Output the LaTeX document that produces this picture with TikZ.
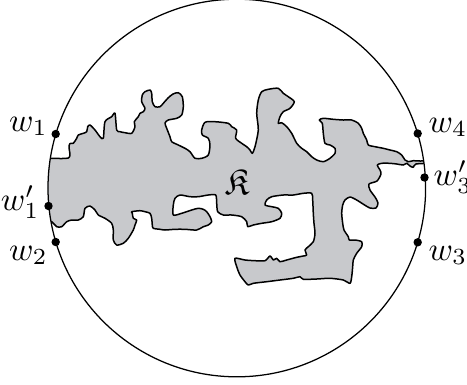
\documentclass[tikz,border=0pt]{standalone}
\usepackage{amssymb}
\definecolor{blobgrey}{RGB}{200,201,204}
\begin{document}
\begin{tikzpicture}[x=0.3333pt,y=-0.3333pt,
  blobstyle/.style={fill=blobgrey, draw=black, line width=0.5pt, line join=round},
  rimstyle/.style={draw=black, line width=0.42pt},
  dotstyle/.style={circle, fill=black, inner sep=0pt, minimum size=2.8pt},
  lab/.style={inner sep=0pt, scale=1.1, transform shape}]
\useasboundingbox (0,0) rectangle (467,384);
\coordinate (c) at (236.8,188);
\begin{scope}
\clip (c) circle [radius=62.93pt];
\draw[blobstyle] plot[smooth cycle, tension=0.45] coordinates {
(40,158) (50,158.3) (62,158.5) (68.3,158) (70,155) (69,147) (70,143.5) (73.3,143.3)
(76.7,138.3) (78.3,135) (83.3,133.3) (86.7,131.7) (87.7,126.7) (90,125) (95,130)
(100,136.7) (103.3,138.3) (105,121.7) (111.7,116.7) (115,113.3) (116.7,130) (120,131.7)
(125,132.7) (131.7,133.3) (135,126.7) (134.3,121.7) (138.3,116.7) (140,113.3) (143.3,111.7)
(145,108.3) (141.7,101.7) (142.3,95) (145,91.7) (150,90) (151.7,93.3) (152.3,101.7)
(155,106.7) (160,106.7) (163.3,103.3) (168,98) (173,94) (178.3,92.7) (182.3,96.7)
(183.3,106.7) (181.7,115) (176.7,118.3) (168.3,120) (165,123) (166.7,128.3) (170,136.7)
(171.7,141.7) (178.3,145) (185,148.3) (190,151.7) (195,158.3) (201.7,158.3) (208.3,155)
(210,145) (208.3,138.3) (202.3,135) (201.7,130) (205,122.3) (215,121.7) (228.3,123.3)
(231.7,126.7) (236.7,130) (235.7,138.3) (241.7,143.3) (246.7,146.7) (250,150) (252.3,153.3)
(255,146.7) (258.3,130) (256.7,113.3) (258.3,100) (261.7,91.7) (268.3,89.3) (278.3,88.3)
(283.3,93.3) (288.3,96.7) (294.3,101.7) (290,108.3) (283.3,111.7) (280,116.7) (278.3,123.3)
(281.7,122.7) (286.7,126.7) (291.7,133.3) (296.7,143.3) (301.7,148.3) (306.7,151.7)
(311.7,156.7) (316.7,160) (323.3,161.7) (330,158.3) (335,153.3) (335,148.3) (330,145)
(325,143.3) (323.3,133.3) (322.3,123.3) (319.3,120) (323.3,118.3) (333.3,119.3) (343.3,120)
(351.7,120) (358.3,123.3) (361.7,128.3) (363.3,133.3) (366.7,140) (368.3,145) (375,146.7)
(383.3,148.3) (390,150) (396.7,151.7) (401.7,155) (405,160) (408.3,161.7) (413.3,160.7)
(420,161) (432,161) (432,163) (416,164) (413.3,167.3) (410,166) (406.7,163.3) (403.3,165)
(396.7,164) (390,163.3) (381.7,163.3) (377.3,165) (380,170) (381,174) (377,181) (369,184)
(370,190) (375,197) (378,203) (376,208) (370,208) (363,204) (356.7,200) (350,197) (345,200)
(342.7,205) (341.7,213.3) (342.7,223.3) (344,230) (348.3,236.7) (349.3,240) (355,240)
(361.7,241.7) (361.7,246.7) (356.7,253.3) (353.3,260) (352.7,266.7) (351.7,276.7) (350,283.3)
(343.3,280) (330,278.3) (316.7,279) (303.3,279.3) (300,276.7) (293.3,278.3) (280,280)
(266.7,281.7) (253.3,283.3) (248.3,285) (245,281.7) (240,275) (236.7,266.7) (235,258.3)
(245,260) (255,260.7) (265,260.7) (270,256) (273.3,260) (276.7,258.3) (280,261.7)
(286.7,260) (296.7,257.3) (303.3,256) (306.7,255) (305,250) (308.3,246.7) (313.3,241.7)
(315,233.3) (314,223.3) (313.3,213.3) (312.7,200) (311.7,193.3) (303.3,193.3) (293.3,195)
(283.3,195) (271.7,196.7) (266.7,200) (265,205) (271.7,206.7) (278.3,208.3) (281.7,213.3)
(280,218.3) (271.7,221.7) (261.7,223.3) (253.3,225) (247.7,226.7) (246.7,221.7) (241.7,216.7)
(231.7,215) (223.3,215) (217.7,211.7) (216.7,203.3) (215.7,195) (208.3,195) (198.3,196.7)
(190,196.7) (180,195) (175,198.3) (173.3,205) (173.3,215) (181.7,213.3) (191.7,210)
(198.3,208.3) (203.3,209.3) (206.7,211.7) (210,216.7) (211.7,221.7) (208.3,225) (203.3,226.7)
(196.7,230) (185,229.3) (175,229.3) (165,230) (160,229.3) (153.3,228.3) (152.3,225)
(151.7,218.3) (150,213.3) (145,211.7) (140,210.7) (131.7,211.7) (132.3,213.3) (133.3,218.3)
(136.7,220) (135,225) (133.3,230) (128.3,238.3) (123.3,243.3) (116.7,245) (113.3,240)
(113.3,230) (111.7,223.3) (105,218.3) (98.3,215) (95,210) (90,206) (85,208.3) (83.3,216.7)
(78.3,220) (71.7,220) (66.7,221.7) (61.7,226.7) (56.7,226.7) (51.7,221.7) (40,215)
};
\end{scope}
\draw[rimstyle] (c) circle [radius=62.93pt];
\node[lab, scale=1.1] (k) at (236.7,181.7) {$\mathfrak{K}$};
\node[dotstyle] (d1) at (55.7,134) {};
\node[dotstyle] (d1p) at (48.5,206) {};
\node[dotstyle] (d2) at (55.7,242) {};
\node[dotstyle] (d4) at (417.7,133.5) {};
\node[dotstyle] (d3p) at (424.5,177.5) {};
\node[dotstyle] (d3) at (417.7,242.3) {};
\node[lab, anchor=base east] (l1) at (48.3,131) {$w_1$};
\node[lab, anchor=base east] (l1p) at (40,210) {$w_1'$};
\node[lab, anchor=base east] (l2) at (48.3,260) {$w_2$};
\node[lab, anchor=base west] (l4) at (428,132) {$w_4$};
\node[lab, anchor=base west] (l3p) at (433,185) {$w_3'$};
\node[lab, anchor=base west] (l3) at (428,260) {$w_3$};
\end{tikzpicture}
\end{document}
